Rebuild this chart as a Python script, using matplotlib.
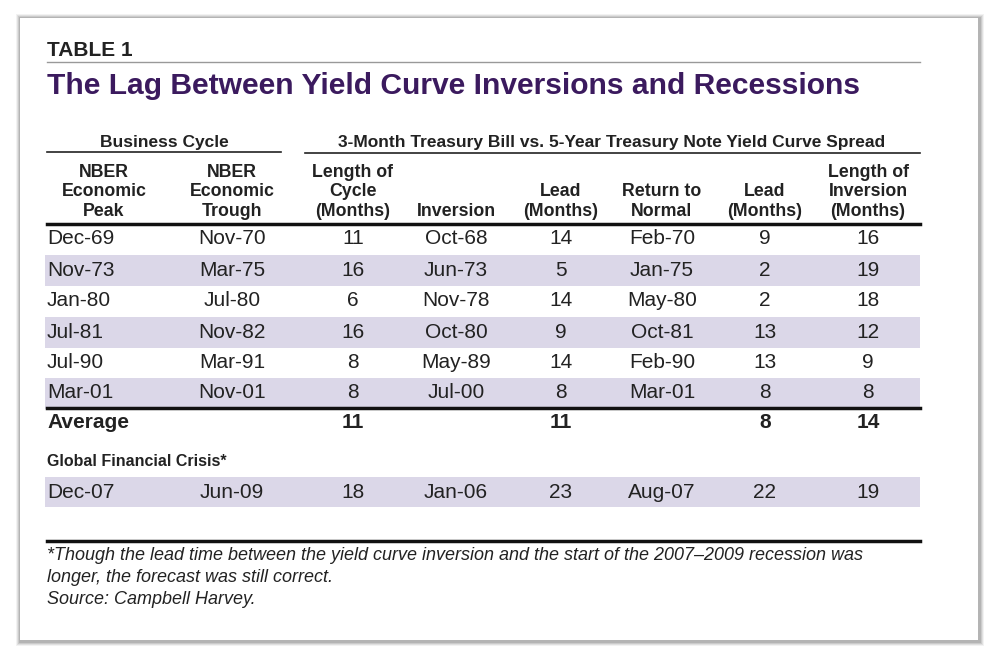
import matplotlib.pyplot as plt
from matplotlib.patches import Rectangle

peaks = ["Dec-69", "Nov-73", "Jan-80", "Jul-81", "Jul-90", "Mar-01"]
troughs = ["Nov-70", "Mar-75", "Jul-80", "Nov-82", "Mar-91", "Nov-01"]
cycle_len = [11, 16, 6, 16, 8, 8]
inversion = ["Oct-68", "Jun-73", "Nov-78", "Oct-80", "May-89", "Jul-00"]
lead1 = [14, 5, 14, 9, 14, 8]
ret_normal = ["Feb-70", "Jan-75", "May-80", "Oct-81", "Feb-90", "Mar-01"]
lead2 = [9, 2, 2, 13, 13, 8]
inv_len = [16, 19, 18, 12, 9, 8]
averages = [11, 11, 8, 14]
gfc = ["Dec-07", "Jun-09", 18, "Jan-06", 23, "Aug-07", 22, 19]
headers = ["NBER\nEconomic\nPeak", "NBER\nEconomic\nTrough", "Length of\nCycle\n(Months)",
           "Inversion", "Lead\n(Months)", "Return to\nNormal", "Lead\n(Months)",
           "Length of\nInversion\n(Months)"]

narrow = ['Liberation Sans Narrow', 'Liberation Sans', 'DejaVu Sans']
sans = ['Liberation Sans', 'DejaVu Sans']
purple = '#3b1a5e'
band = '#dbd7e8'
xs = [47, 232, 353, 456, 561, 662, 765, 868]

fig = plt.figure(figsize=(10, 6.63), dpi=100)
fig.patch.set_facecolor('white')
ax = fig.add_axes([0, 0, 1, 1])
ax.set_xlim(0, 1000)
ax.set_ylim(663, 0)
ax.axis('off')

# card with shadow
for i, a in enumerate([0.05, 0.07, 0.09, 0.11]):
    ax.add_patch(Rectangle((16 + i, 14 + i), 968 - 2 * i, 632 - 2 * i, color='black', alpha=a, lw=0))
ax.add_patch(Rectangle((20, 18), 958, 622, color='white', lw=0))

ax.text(47, 50, "TABLE 1", family=sans, weight='bold', fontsize=15, color='#222222', va='center')
ax.plot([47, 920], [62, 62], color='#999999', lw=1)
ax.text(47, 86, "The Lag Between Yield Curve Inversions and Recessions", family=sans,
        weight='bold', fontsize=21.6, color=purple, va='center')

ax.text(164, 143, "Business Cycle", family=narrow, weight='bold', fontsize=12.5, ha='center', va='center', color='#222222')
ax.plot([47, 281], [152, 152], color='#222222', lw=1.2)
ax.text(612, 143, "3-Month Treasury Bill vs. 5-Year Treasury Note Yield Curve Spread", family=narrow,
        weight='bold', fontsize=12.5, ha='center', va='center', color='#222222')
ax.plot([305, 920], [153, 153], color='#222222', lw=1.2)

for i, h in enumerate(headers):
    ax.text(xs[i] + (57 if i == 0 else 0), 220, h, family=narrow, weight='bold', fontsize=12.8,
            ha='center', va='bottom', color='#222222', linespacing=1.2)
ax.plot([47, 920], [224, 224], color='#111111', lw=2.5)

row_y = [238, 270, 301, 332, 362, 393]
for r in range(6):
    y = row_y[r]
    if r % 2 == 1:
        ax.add_patch(Rectangle((45, y - 15.5), 875, 31, color=band, lw=0))
    vals = [peaks[r], troughs[r], cycle_len[r], inversion[r], lead1[r], ret_normal[r], lead2[r], inv_len[r]]
    for c, v in enumerate(vals):
        ax.text(xs[c], y, str(v), family=sans, fontsize=15, ha='left' if c == 0 else 'center',
                va='center', color='#222222')

ax.plot([47, 920], [408, 408], color='#111111', lw=2.5)
ax.text(47, 423, "Average", family=sans, weight='bold', fontsize=15, va='center', color='#222222')
for c, v in zip([2, 4, 6, 7], averages):
    ax.text(xs[c], 423, str(v), family=sans, weight='bold', fontsize=15, ha='center', va='center', color='#222222')

ax.text(47, 462, "Global Financial Crisis*", family=sans, weight='bold', fontsize=11.5, va='center', color='#222222')
ax.add_patch(Rectangle((45, 477), 875, 30, color=band, lw=0))
for c, v in enumerate(gfc):
    ax.text(xs[c], 492, str(v), family=sans, fontsize=15, ha='left' if c == 0 else 'center',
            va='center', color='#222222')

ax.plot([47, 920], [541, 541], color='#111111', lw=2.5)
foot = ["*Though the lead time between the yield curve inversion and the start of the 2007\u20132009 recession was",
        "longer, the forecast was still correct.", "Source: Campbell Harvey."]
for i, t in enumerate(foot):
    ax.text(47, 555 + 22 * i, t, family=sans, style='italic', fontsize=13, va='center', color='#222222')

fig.savefig("out.png", dpi=100)
